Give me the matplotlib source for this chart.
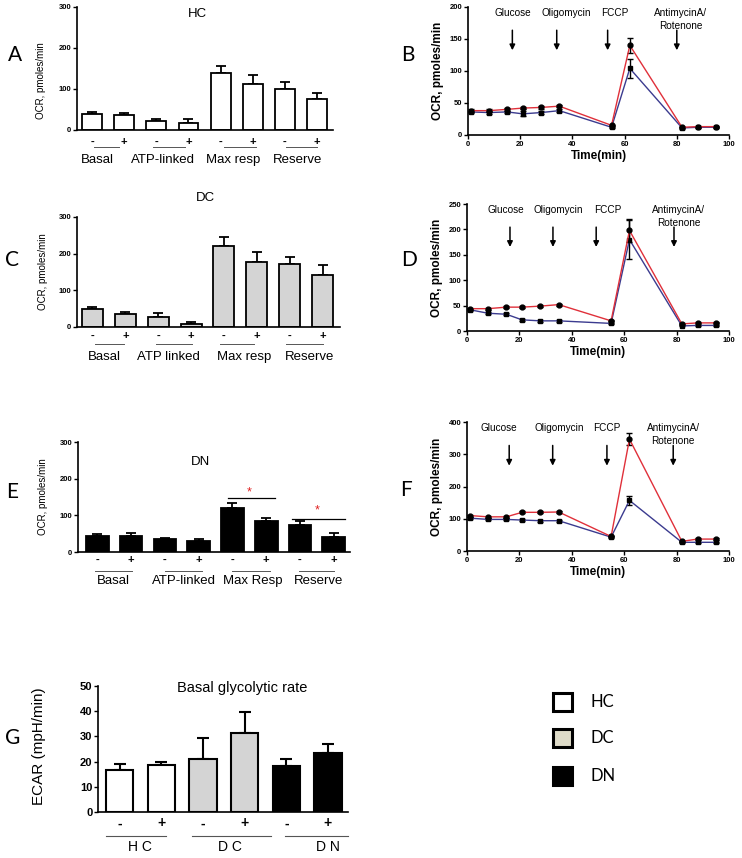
import matplotlib
matplotlib.use('Agg')
import matplotlib.pyplot as plt
from matplotlib.patches import Rectangle

plt.rcParams['font.family'] = ['Liberation Sans', 'DejaVu Sans']

# ---- bar panels (OCR parameters) ----
pair_signs = ['-', '+', '-', '+', '-', '+', '-', '+']
hc_groups = ['Basal', 'ATP-linked', 'Max resp', 'Reserve']
dc_groups = ['Basal', 'ATP linked', 'Max resp', 'Reserve']
dn_groups = ['Basal', 'ATP-linked', 'Max Resp', 'Reserve']

hc_vals = [38, 36, 22, 18, 138, 112, 100, 75]
hc_err = [6, 6, 6, 9, 19, 22, 16, 14]
dc_vals = [50, 35, 27, 7, 222, 177, 172, 143]
dc_err = [5, 7, 10, 7, 23, 27, 18, 25]
dn_vals = [45, 43, 35, 30, 120, 85, 75, 41]
dn_err = [5, 9, 2, 6, 14, 9, 10, 10]

# ---- time course panels ----
times = [1, 8, 15, 21, 28, 35, 55, 62, 82, 88, 95]
b_red = [38, 38, 40, 42, 43, 45, 15, 140, 12, 13, 13]
b_blue = [36, 35, 36, 33, 35, 38, 12, 104, 11, 12, 12]
b_red_err = [2, 2, 2, 2, 2, 2, 1, 12, 1, 1, 1]
b_blue_err = [2, 2, 2, 4, 2, 2, 1, 15, 1, 1, 1]
d_red = [44, 44, 47, 47, 49, 52, 20, 198, 14, 16, 16]
d_blue = [42, 35, 33, 22, 20, 20, 15, 180, 10, 11, 11]
d_red_err = [2, 2, 2, 2, 2, 2, 1, 22, 1, 1, 1]
d_blue_err = [2, 2, 2, 2, 2, 2, 1, 38, 1, 1, 1]
f_red = [110, 106, 106, 120, 120, 121, 45, 347, 30, 37, 37]
f_blue = [102, 98, 98, 96, 94, 94, 43, 157, 27, 27, 27]
f_red_err = [3, 3, 3, 3, 3, 3, 2, 18, 2, 2, 2]
f_blue_err = [3, 3, 3, 3, 3, 3, 2, 14, 2, 2, 2]
injections = ['Glucose', 'Oligomycin', 'FCCP', 'AntimycinA/\nRotenone']

# ---- glycolytic rate ----
g_groups = ['HC', 'DC', 'DN']
g_vals = [16.8, 18.7, 21.1, 31.5, 18.1, 23.4]
g_err = [2.3, 1.0, 8.1, 8.1, 2.9, 3.6]

bar_colors = {'HC': 'white', 'DC': '#d4d4d4', 'DN': 'black'}

fig = plt.figure(figsize=(7.42, 8.58), dpi=100)


def style_axes(ax):
    for s in ['top', 'right']:
        ax.spines[s].set_visible(False)
    for s in ['left', 'bottom']:
        ax.spines[s].set_linewidth(1.2)
    ax.tick_params(axis='y', length=3, width=1, pad=1)


def bar_panel(rect, vals, err, color, groups, title, tpos, line_span, lab_pos,
              tick_y, line_y, lab_y, lim, width):
    ax = fig.add_axes(rect)
    x = list(range(len(vals)))
    ax.bar(x, vals, width=width, color=color, edgecolor='black', linewidth=1.3,
           zorder=2)
    ax.errorbar(x, vals, yerr=[[0] * len(err), err], fmt='none', ecolor='black',
                elinewidth=1.3, capsize=3.5, capthick=1.3, zorder=1)
    style_axes(ax)
    ax.set_ylim(0, 300)
    ax.set_yticks([0, 100, 200, 300])
    ax.set_xlim(*lim)
    ax.set_xticks([])
    for i in range(len(vals)):
        ax.text(i, tick_y, pair_signs[i], transform=ax.get_xaxis_transform(),
                ha='center', va='center', fontsize=8, fontweight='bold')
    for k, g in enumerate(groups):
        a, b = line_span[k]
        ax.plot([a, b], [line_y, line_y], transform=ax.get_xaxis_transform(),
                color='#555555', lw=0.7, clip_on=False)
        ax.text(lab_pos[k], lab_y, g, transform=ax.get_xaxis_transform(),
                ha='center', va='center', fontsize=9.5)
    ax.text(tpos[0], tpos[1], title, transform=ax.transAxes, ha='center',
            va='center', fontsize=9.5)
    ax.set_ylabel('OCR, pmoles/min', fontsize=7)
    for lab in ax.get_yticklabels():
        lab.set_fontsize(5.5)
        lab.set_fontweight('bold')
    return ax


def line_panel(rect, red, blue, red_err, blue_err, ymax, step, arrows, texts):
    ax = fig.add_axes(rect)
    ax.errorbar(times, red, yerr=red_err, color='#e0303a', lw=1, marker='o',
                ms=3.5, mfc='black', mec='black', ecolor='black', elinewidth=1,
                capsize=2.5, zorder=3)
    ax.errorbar(times, blue, yerr=blue_err, color='#3b3b8f', lw=1, marker='s',
                ms=3.5, mfc='black', mec='black', ecolor='black', elinewidth=1,
                capsize=2.5, zorder=2)
    style_axes(ax)
    ax.tick_params(axis='x', length=3, width=1, pad=1)
    ax.set_xlim(0, 100)
    ax.set_ylim(0, ymax)
    ax.set_xticks([0, 20, 40, 60, 80, 100])
    ax.set_yticks(list(range(0, ymax + 1, step)))
    for lab in ax.get_xticklabels() + ax.get_yticklabels():
        lab.set_fontsize(5.5)
        lab.set_fontweight('bold')
    ax.set_xlabel('Time(min)', fontsize=8.5, fontweight='bold', labelpad=2)
    ax.set_ylabel('OCR, pmoles/min', fontsize=8.5, fontweight='bold', labelpad=4)
    tr = ax.get_xaxis_transform()
    for t in arrows:
        ax.annotate('', xy=(t, 0.64), xytext=(t, 0.84), xycoords=tr,
                    textcoords=tr,
                    arrowprops=dict(arrowstyle='-|>', color='black', lw=1.1,
                                    mutation_scale=8))
    for name, t in zip(injections, texts):
        ax.text(t, 0.99, name, transform=tr, ha='center', va='top',
                fontsize=7.2, linespacing=1.3)
    return ax


# A
axA = bar_panel([0.1038, 0.8485, 0.345, 0.1434], hc_vals, hc_err, 'white',
                hc_groups, 'HC', (0.47, 0.94),
                [(0.05, 0.83), (1.9, 2.9), (4.1, 5.1), (6.05, 7.0)],
                [0.16, 2.2, 4.4, 6.4], -0.1, -0.14, -0.245, (-0.47, 7.5), 0.62)
axA.yaxis.set_label_coords(-0.12, 0.4)

# C
axC = bar_panel([0.1038, 0.6189, 0.3544, 0.1282], dc_vals, dc_err, '#d4d4d4',
                dc_groups, 'DC', (0.49, 1.17),
                [(0.09, 0.97), (1.94, 3.03), (3.89, 4.9), (5.89, 7.0)],
                [0.37, 2.3, 4.6, 6.6], -0.08, -0.155, -0.27, (-0.47, 7.53), 0.64)
axC.yaxis.set_label_coords(-0.11, 0.5)

# E
axE = bar_panel([0.1051, 0.3566, 0.3666, 0.1282], dn_vals, dn_err, 'black',
                dn_groups, 'DN', (0.45, 0.82),
                [(-0.06, 1.02), (2.0, 3.1), (4.0, 5.1), (5.98, 7.0)],
                [0.48, 2.58, 4.6, 6.56], -0.07, -0.17, -0.26, (-0.57, 7.48), 0.67)
axE.yaxis.set_label_coords(-0.11, 0.5)
axE.plot([3.88, 5.26], [147, 147], color='black', lw=0.9)
axE.text(4.5, 163, '*', color='#e02020', ha='center', va='center', fontsize=9)
axE.plot([5.75, 7.33], [91, 91], color='black', lw=0.9, clip_on=False)
axE.text(6.5, 114, '*', color='#e02020', ha='center', va='center', fontsize=9)

# B, D, F
line_panel([0.6307, 0.8427, 0.3518, 0.1492], b_red, b_blue, b_red_err,
           b_blue_err, 200, 50, [17, 34, 53.5, 80], [17, 37.6, 56.4, 81.5])
line_panel([0.6294, 0.6142, 0.3531, 0.148], d_red, d_blue, d_red_err,
           d_blue_err, 250, 50, [16.4, 32.8, 49.3, 79], [14.9, 34.8, 53.9, 80.9])
line_panel([0.6294, 0.3578, 0.3531, 0.1503], f_red, f_blue, f_red_err,
           f_blue_err, 400, 100, [16.1, 32.7, 53.4, 78.7], [12.3, 35.2, 53.4, 78.7])

# G
axG = fig.add_axes([0.1321, 0.0536, 0.3369, 0.1469])
gx = list(range(len(g_vals)))
gcol = [bar_colors[g] for g in g_groups for _ in range(2)]
axG.bar(gx, g_vals, width=0.66, color=gcol, edgecolor='black', linewidth=1.5,
        zorder=2)
axG.errorbar(gx, g_vals, yerr=[[0] * len(g_err), g_err], fmt='none',
             ecolor='black', elinewidth=1.5, capsize=4.5, capthick=1.5, zorder=1)
style_axes(axG)
axG.set_ylim(0, 50)
axG.set_yticks([0, 10, 20, 30, 40, 50])
axG.set_xlim(-0.52, 5.48)
axG.set_xticks([])
for lab in axG.get_yticklabels():
    lab.set_fontsize(8)
    lab.set_fontweight('bold')
trG = axG.get_xaxis_transform()
for i in gx:
    axG.text(i, -0.09, pair_signs[i], transform=trG, ha='center', va='center',
             fontsize=10, fontweight='bold')
for (a, b), name, p in zip([(-0.34, 1.12), (1.74, 3.64), (3.96, 5.48)],
                           g_groups, [0.48, 2.64, 5.0]):
    axG.plot([a, b], [-0.19, -0.19], transform=trG, color='#555555', lw=0.8,
             clip_on=False)
    axG.text(p, -0.275, ' '.join(name), transform=trG, ha='center',
             va='center', fontsize=10)
axG.text(0.576, 0.98, 'Basal glycolytic rate', transform=axG.transAxes,
         ha='center', va='center', fontsize=10.5)
axG.set_ylabel('ECAR (mpH/min)', fontsize=11)
axG.yaxis.set_label_coords(-0.21, 0.52)

# panel letters
letters = ['A', 'B', 'C', 'D', 'E', 'F', 'G']
letter_xy = [(15, 55), (408, 55), (12, 260), (409, 260), (12, 492), (406, 490),
             (13, 738)]
for lt, (px, py) in zip(letters, letter_xy):
    fig.text(px / 742, 1 - py / 858, lt, ha='center', va='center', fontsize=15,
             family=['Lato', 'DejaVu Sans'])

# legend boxes
for k, (name, py) in enumerate(zip(g_groups, [702, 738, 776])):
    fc = {'HC': 'white', 'DC': '#dedbc8', 'DN': 'black'}[name]
    fig.patches.append(Rectangle((553 / 742, 1 - (py + 9) / 858), 19 / 742,
                                 18 / 858, transform=fig.transFigure,
                                 facecolor=fc, edgecolor='black', lw=2.2))
    fig.text(591 / 742, 1 - py / 858, name, ha='left', va='center', fontsize=12,
             family=['Lato', 'DejaVu Sans'])

fig.savefig('out.png', dpi=100)
